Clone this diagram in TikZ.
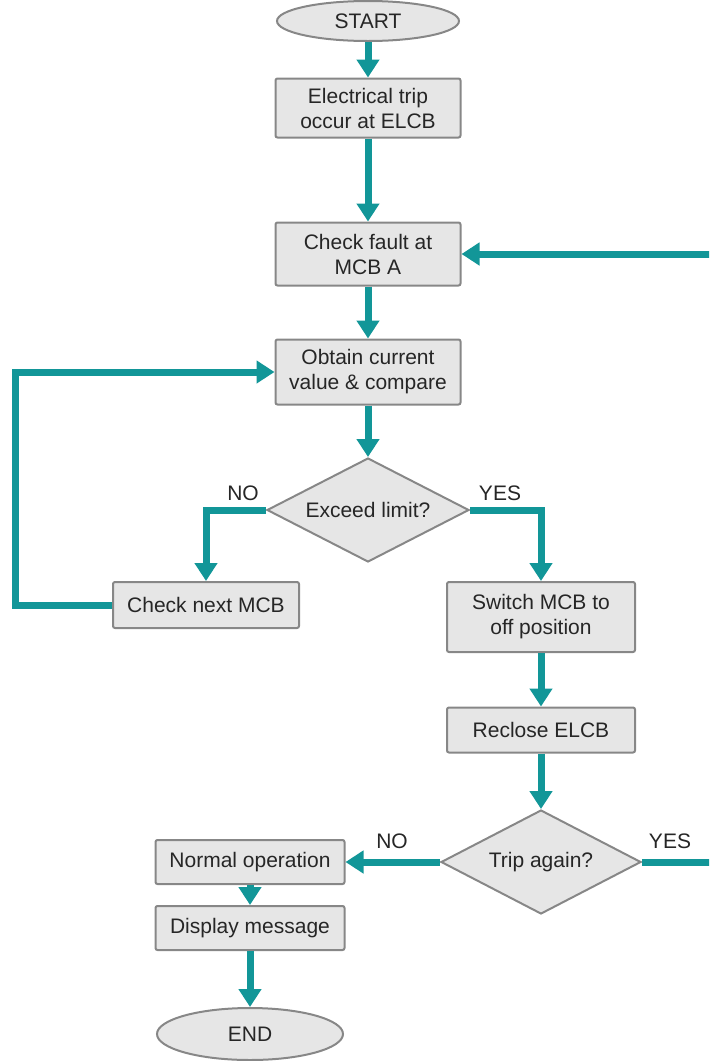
\documentclass[tikz,border=0pt]{standalone}
\usepackage{fontspec}
\setmainfont{Liberation Sans}
\usepackage{xcolor}
\usetikzlibrary{shapes.geometric,arrows.meta}
\definecolor{flowteal}{RGB}{18,150,152}
\definecolor{boxgray}{RGB}{230,230,230}
\definecolor{edgegray}{RGB}{135,135,135}

\begin{document}
\begin{tikzpicture}[x=0.5pt, y=-0.5pt,
    every node/.style={font=\fontsize{10.5}{12.5}\selectfont, text=black!85},
    box/.style={draw=edgegray, fill=boxgray, line width=1pt, rounded corners=1pt, align=center, inner sep=2pt},
    term/.style={ellipse, draw=edgegray, fill=boxgray, line width=1pt},
    decision/.style={diamond, aspect=2, draw=edgegray, fill=boxgray, line width=1pt, inner sep=0pt, minimum width=101pt, minimum height=52pt},
    flow/.style={flowteal, line width=3.5pt, -{Triangle[width=11pt,length=9pt]}}]
    \useasboundingbox (0,0) rectangle (709,1061);
    \clip (0,0) rectangle (709,1061);

    \node[term, minimum width=91pt, minimum height=20pt] (start) at (368,21) {START};
    \node[box, minimum width=92.5pt, minimum height=29.5pt] (trip) at (368,108) {Electrical trip\\occur at ELCB};
    \node[box, minimum width=92.5pt, minimum height=31.5pt] (fault) at (368,254) {Check fault at\\MCB A};
    \node[box, minimum width=92.5pt, minimum height=32.5pt] (obtain) at (368,372) {Obtain current\\value \& compare};
    \node[decision] (exceed) at (368,510) {Exceed limit?};
    \node[box, minimum width=93pt, minimum height=23pt] (next) at (206,605) {Check next MCB};
    \node[box, minimum width=94pt, minimum height=35pt] (switch) at (541,617) {Switch MCB to\\off position};
    \node[box, minimum width=94pt, minimum height=22.5pt] (reclose) at (541,730) {Reclose ELCB};
    \node[decision, minimum width=100pt] (again) at (541,862) {Trip again?};
    \node[box, minimum width=94.5pt, minimum height=22pt] (normal) at (250,862) {Normal operation};
    \node[box, minimum width=94.5pt, minimum height=22pt] (display) at (250,928) {Display message};
    \node[term, minimum width=93pt, minimum height=26pt] (end) at (250,1034) {END};

    \node (no1) at (243,493) {NO};
    \node (yes1) at (500,493) {YES};
    \node (no2) at (392,841) {NO};
    \node (yes2) at (670,841) {YES};

    \coordinate (lft) at (15,0);
    \coordinate (rgt) at (716,0);

    \draw[flow] (start) -- (trip);
    \draw[flow] (trip) -- (fault);
    \draw[flow] (fault) -- (obtain);
    \draw[flow] (obtain) -- (exceed);
    \draw[flow] (exceed.west) -| (next.north);
    \draw[flow] (exceed.east) -| (switch.north);
    \draw[flow] (next.west) -- (next.west -| lft) -- (lft |- obtain.west) -- (obtain.west);
    \draw[flow] (switch) -- (reclose);
    \draw[flow] (reclose) -- (again);
    \draw[flow] (again) -- (normal);
    \draw[flow] (normal) -- (display);
    \draw[flow] (display) -- (end);
    \draw[flow] (again.east) -- (again.east -| rgt) -- (rgt |- fault.east) -- (fault.east);
\end{tikzpicture}
\end{document}
